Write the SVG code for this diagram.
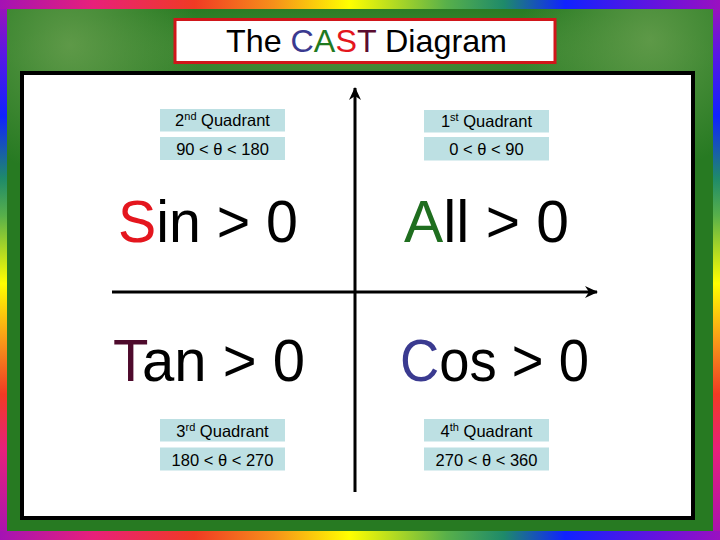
<svg xmlns="http://www.w3.org/2000/svg" width="720" height="540" viewBox="0 0 720 540">
  <defs>
    <linearGradient id="rainH" x1="0" y1="0" x2="720" y2="0" gradientUnits="userSpaceOnUse">
      <stop offset="0" stop-color="#a412b4"/>
      <stop offset="0.13" stop-color="#e8207a"/>
      <stop offset="0.27" stop-color="#f03a24"/>
      <stop offset="0.38" stop-color="#f6901a"/>
      <stop offset="0.485" stop-color="#ffff00"/>
      <stop offset="0.62" stop-color="#58b04a"/>
      <stop offset="0.70" stop-color="#1e8a6a"/>
      <stop offset="0.785" stop-color="#1022ff"/>
      <stop offset="0.92" stop-color="#6a12dc"/>
      <stop offset="1" stop-color="#9a10c0"/>
    </linearGradient>
    <linearGradient id="rainV" x1="0" y1="0" x2="0" y2="540" gradientUnits="userSpaceOnUse">
      <stop offset="0" stop-color="#a412b4"/>
      <stop offset="0.10" stop-color="#5a18e4"/>
      <stop offset="0.215" stop-color="#1022ff"/>
      <stop offset="0.33" stop-color="#1e8a6a"/>
      <stop offset="0.40" stop-color="#58b04a"/>
      <stop offset="0.525" stop-color="#ffff00"/>
      <stop offset="0.64" stop-color="#f6901a"/>
      <stop offset="0.73" stop-color="#f03a24"/>
      <stop offset="0.83" stop-color="#e8207a"/>
      <stop offset="1" stop-color="#a412b4"/>
    </linearGradient>
    <radialGradient id="glowL" cx="70" cy="45" r="130" gradientUnits="userSpaceOnUse">
      <stop offset="0" stop-color="#6aa050" stop-opacity="0.8"/>
      <stop offset="1" stop-color="#6aa050" stop-opacity="0"/>
    </radialGradient>
    <radialGradient id="glowR" cx="650" cy="40" r="130" gradientUnits="userSpaceOnUse">
      <stop offset="0" stop-color="#6aa050" stop-opacity="0.8"/>
      <stop offset="1" stop-color="#6aa050" stop-opacity="0"/>
    </radialGradient>
    <radialGradient id="glowM" cx="360" cy="55" r="360" gradientUnits="userSpaceOnUse" gradientTransform="translate(0,55) scale(1,0.15) translate(0,-55)">
      <stop offset="0" stop-color="#5f9a4a" stop-opacity="0.6"/>
      <stop offset="1" stop-color="#5f9a4a" stop-opacity="0"/>
    </radialGradient>
    <marker id="arrow" markerUnits="userSpaceOnUse" markerWidth="14" markerHeight="12" refX="12" refY="6" orient="auto">
      <path d="M0,0 L13,6 L0,12 L4,6 z" fill="#000"/>
    </marker>
    <style>
      .box { fill: #bde0e3; }
      .small { font-family: "Liberation Sans", "DejaVu Sans", sans-serif; font-size: 16.5px; fill: #000; text-anchor: middle; }
      .big { font-family: "Liberation Sans", "DejaVu Sans", sans-serif; font-size: 60px; fill: #000; }
      .title { font-family: "Liberation Sans", "DejaVu Sans", sans-serif; font-size: 32px; fill: #000; }
      .axis { stroke: #000; stroke-width: 3; fill: none; }
    </style>
  </defs>

  <!-- rainbow frame -->
  <rect x="0" y="0" width="720" height="540" fill="url(#rainV)"/>
  <rect x="0" y="0" width="720" height="9" fill="url(#rainH)"/>
  <rect x="0" y="531" width="720" height="9" fill="url(#rainH)"/>

  <!-- green mat -->
  <rect x="7" y="9" width="706" height="522" fill="#277a22"/>
  <rect x="7" y="9" width="706" height="522" fill="url(#glowM)"/>
  <rect x="7" y="9" width="706" height="522" fill="url(#glowL)"/>
  <rect x="7" y="9" width="706" height="522" fill="url(#glowR)"/>

  <!-- white panel -->
  <rect x="22" y="73" width="671" height="445" fill="#ffffff" stroke="#000" stroke-width="4"/>

  <!-- title -->
  <g id="title">
    <rect x="175" y="19.5" width="380" height="43" fill="#ffffff" stroke="#d0161a" stroke-width="3"/>
    <text class="title" x="226" y="52" textLength="281" lengthAdjust="spacingAndGlyphs">The <tspan fill="#3a3a90">C</tspan><tspan fill="#1f7a1f">A</tspan><tspan fill="#e4161e">S</tspan><tspan fill="#5a0c30">T</tspan> Diagram</text>
  </g>

  <!-- axes -->
  <g id="connectors">
    <line class="axis" x1="355" y1="492" x2="355" y2="88" marker-end="url(#arrow)"/>
    <line class="axis" x1="112" y1="292" x2="597" y2="292" marker-end="url(#arrow)"/>
  </g>

  <!-- quadrant 2 -->
  <g id="q2">
    <rect class="box" x="160" y="109" width="125" height="22.5"/>
    <text class="small" x="222.5" y="126">2<tspan font-size="11" baseline-shift="super">nd</tspan> Quadrant</text>
    <rect class="box" x="160" y="137" width="125" height="23"/>
    <text class="small" x="222.5" y="154.5">90 &lt; θ &lt; 180</text>
    <text class="big" x="118" y="242" textLength="180" lengthAdjust="spacingAndGlyphs"><tspan fill="#e4161e">S</tspan>in &gt; 0</text>
  </g>

  <!-- quadrant 1 -->
  <g id="q1">
    <rect class="box" x="424" y="110" width="125" height="22.5"/>
    <text class="small" x="486.5" y="127">1<tspan font-size="11" baseline-shift="super">st</tspan> Quadrant</text>
    <rect class="box" x="424" y="137" width="125" height="23.5"/>
    <text class="small" x="486.5" y="154.5">0 &lt; θ &lt; 90</text>
    <text class="big" x="404" y="242" textLength="165" lengthAdjust="spacingAndGlyphs"><tspan fill="#1f6e1f">A</tspan>ll &gt; 0</text>
  </g>

  <!-- quadrant 3 -->
  <g id="q3">
    <text class="big" x="113" y="381" textLength="192" lengthAdjust="spacingAndGlyphs"><tspan fill="#4e0a2c">T</tspan>an &gt; 0</text>
    <rect class="box" x="160" y="419" width="125" height="22.5"/>
    <text class="small" x="222.5" y="436.5">3<tspan font-size="11" baseline-shift="super">rd</tspan> Quadrant</text>
    <rect class="box" x="160" y="447.5" width="125" height="23"/>
    <text class="small" x="222.5" y="465.5">180 &lt; θ &lt; 270</text>
  </g>

  <!-- quadrant 4 -->
  <g id="q4">
    <text class="big" x="400" y="381" textLength="189" lengthAdjust="spacingAndGlyphs"><tspan fill="#3a3a90">C</tspan>os &gt; 0</text>
    <rect class="box" x="424" y="419" width="125" height="22.5"/>
    <text class="small" x="486.5" y="436.5">4<tspan font-size="11" baseline-shift="super">th</tspan> Quadrant</text>
    <rect class="box" x="424" y="447.5" width="125" height="23"/>
    <text class="small" x="486.5" y="465.5">270 &lt; θ &lt; 360</text>
  </g>
</svg>
